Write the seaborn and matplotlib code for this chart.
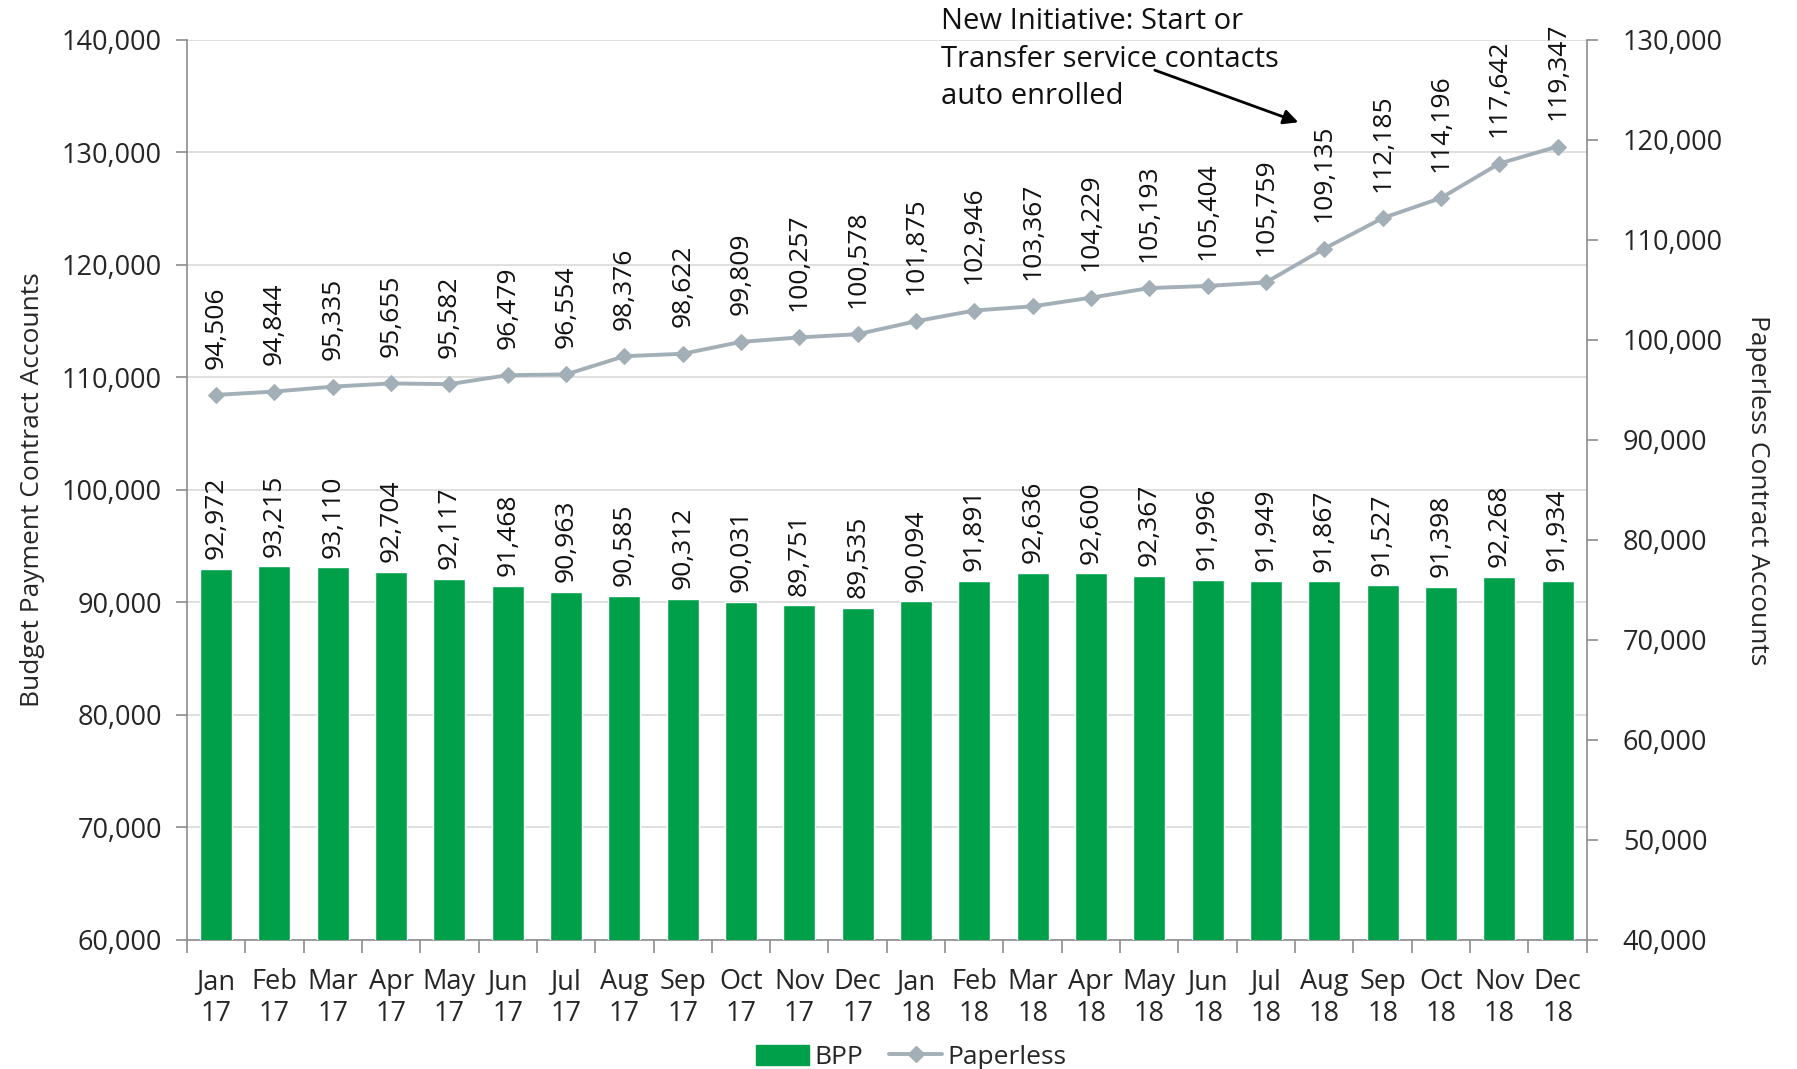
import numpy as np
import pandas as pd
import matplotlib
matplotlib.use("Agg")
import matplotlib.pyplot as plt
import seaborn as sns
from matplotlib.lines import Line2D
from matplotlib.patches import Patch

months = ["Jan", "Feb", "Mar", "Apr", "May", "Jun", "Jul", "Aug", "Sep", "Oct", "Nov", "Dec"] * 2
years = ["17"] * 12 + ["18"] * 12
bpp = [92972, 93215, 93110, 92704, 92117, 91468, 90963, 90585, 90312, 90031, 89751, 89535,
       90094, 91891, 92636, 92600, 92367, 91996, 91949, 91867, 91527, 91398, 92268, 91934]
paperless = [94506, 94844, 95335, 95655, 95582, 96479, 96554, 98376, 98622, 99809, 100257, 100578,
             101875, 102946, 103367, 104229, 105193, 105404, 105759, 109135, 112185, 114196, 117642, 119347]
labels = [f"{m}\n{y}" for m, y in zip(months, years)]

GREEN = "#00A04B"
GRAY_LINE = "#A3AFB7"
AXIS = "#8C8C8C"
GRID = "#D9D9D9"
FS = 19
TFS = 19.5

sns.set_theme(style="white")
plt.rcParams["font.family"] = ["Open Sans", "DejaVu Sans"]
plt.rcParams["font.size"] = FS

df = pd.DataFrame({"label": labels, "BPP": bpp, "Paperless": paperless})
df["idx"] = np.arange(len(df))

fig = plt.figure(figsize=(17.97, 10.69), dpi=100)
ax = fig.add_axes([0.104, 0.1207, 0.779, 0.8419])

sns.barplot(data=df, x="label", y="BPP", color=GREEN, width=0.55, ax=ax, saturation=1, zorder=3)
ax.set_ylim(60000, 140000)
ax.set_yticks(np.arange(60000, 140001, 10000))
ax.set_yticklabels([f"{v:,}" for v in range(60000, 140001, 10000)])
ax.yaxis.grid(True, color=GRID, linewidth=1.2, zorder=0)
ax.set_axisbelow(True)
ax.set_xlim(-0.5, len(df) - 0.5)
ax.set_ylabel("Budget Payment Contract Accounts", fontsize=FS, labelpad=12)
ax.set_xlabel("")

# category ticks: labels at centers, marks at boundaries
ax.set_xticks(np.arange(len(df)), minor=True)
ax.set_xticklabels(labels, minor=True, linespacing=1.55)
ax.set_xticks(np.arange(-0.5, len(df), 1.0))
ax.set_xticklabels([])
ax.tick_params(axis="x", which="major", length=9, color=AXIS, width=1.2, direction="out", bottom=True)
ax.tick_params(axis="x", which="minor", length=0, pad=20, labelsize=TFS)
ax.tick_params(axis="y", length=8, color=AXIS, width=1.2, direction="out", left=True, labelsize=TFS, pad=10)

for side in ["left", "bottom"]:
    ax.spines[side].set_color(AXIS)
    ax.spines[side].set_linewidth(1.2)
ax.spines["top"].set_visible(False)
ax.spines["right"].set_visible(False)

for i, v in enumerate(bpp):
    ax.annotate(f"{v:,}", (i, v), xytext=(0, 7), textcoords="offset points",
                rotation=90, ha="center", va="bottom", fontsize=FS, color="#111111")

ax2 = ax.twinx()
sns.lineplot(data=df, x="idx", y="Paperless", color=GRAY_LINE, linewidth=2.8, marker="D",
             markersize=8, markeredgecolor=GRAY_LINE, ax=ax2, zorder=5)
ax2.set_ylim(40000, 130000)
ax2.set_yticks(np.arange(40000, 130001, 10000))
ax2.set_yticklabels([f"{v:,}" for v in range(40000, 130001, 10000)])
ax2.set_xlim(-0.5, len(df) - 0.5)
ax2.set_ylabel("Paperless Contract Accounts", fontsize=FS, rotation=270, labelpad=34)
ax2.set_xlabel("")
ax2.tick_params(axis="y", length=8, color=AXIS, width=1.2, direction="out", right=True, labelsize=TFS, pad=18)
ax2.grid(False)
for side in ["top", "left", "bottom"]:
    ax2.spines[side].set_visible(False)
ax2.spines["right"].set_color(AXIS)
ax2.spines["right"].set_linewidth(1.2)

for i, v in enumerate(paperless):
    ax2.annotate(f"{v:,}", (i, v), xytext=(0, 19), textcoords="offset points",
                 rotation=90, ha="center", va="bottom", fontsize=FS, color="#111111")

# annotation
ax.annotate("", xy=(18.6, 132600), xytext=(16.05, 137400),
            arrowprops=dict(arrowstyle="-|>", color="black", lw=2, mutation_scale=22),
            annotation_clip=False)
fig.text(0.5235, 0.993, "New Initiative: Start or\nTransfer service contacts\nauto enrolled",
         fontsize=21, ha="left", va="top", linespacing=1.38, color="#111111")

handles = [Patch(facecolor=GREEN, edgecolor=GREEN),
           Line2D([0], [0], color=GRAY_LINE, lw=2.8, marker="D", markersize=8)]
fig.legend(handles, ["BPP", "Paperless"], loc="lower center", bbox_to_anchor=(0.507, -0.023),
           ncol=2, frameon=False, fontsize=FS, handlelength=2.0, handleheight=0.8,
           columnspacing=1.0, handletextpad=0.2)

fig.savefig("out.png", dpi=100)
